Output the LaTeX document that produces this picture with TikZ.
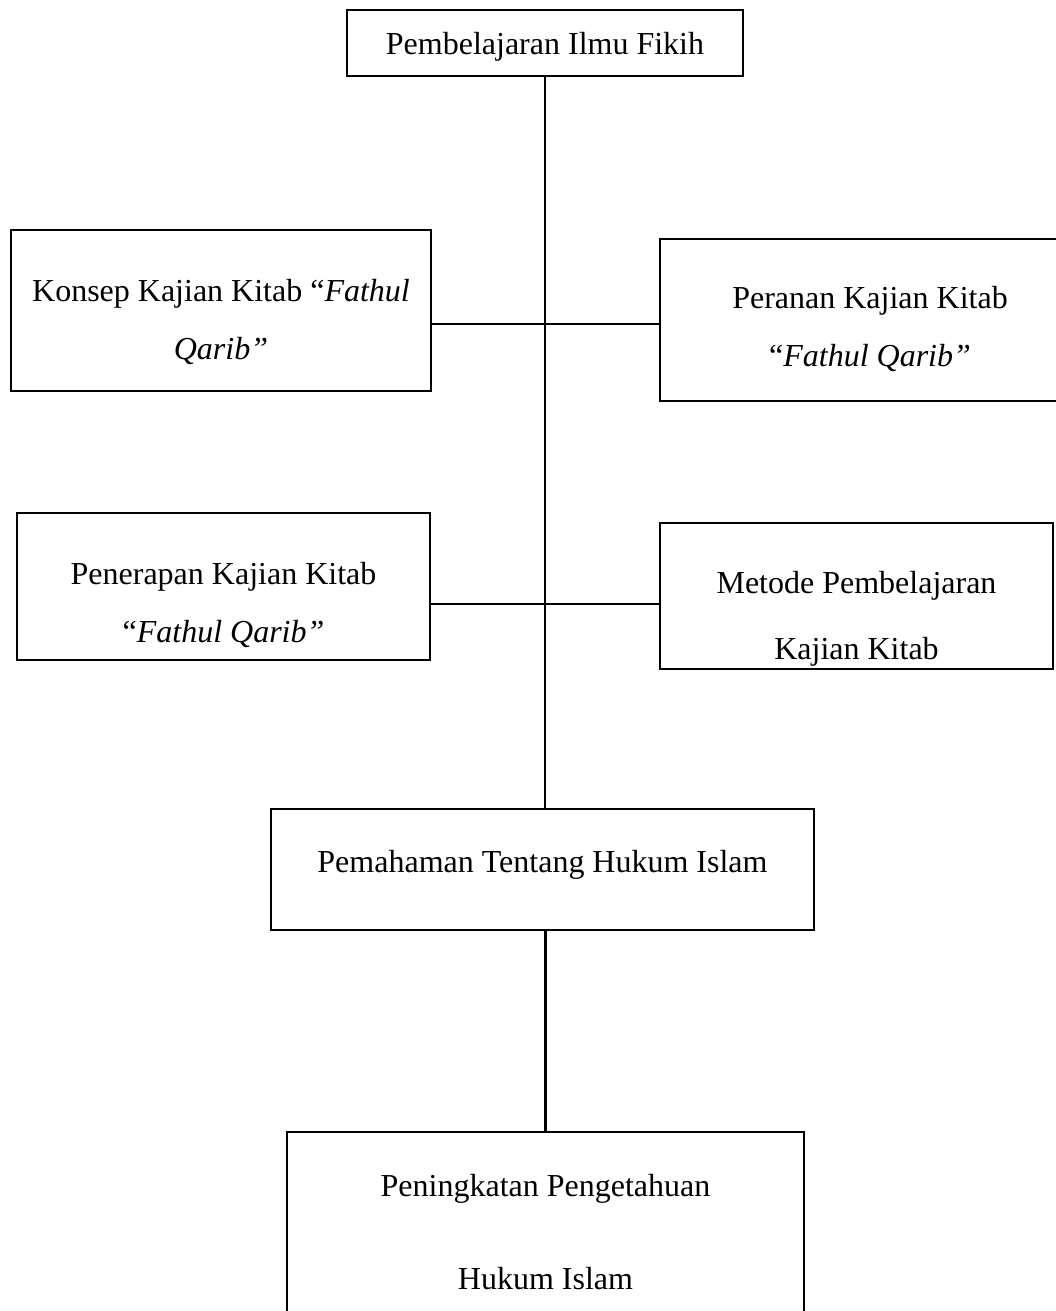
\documentclass[tikz,border=0pt]{standalone}
\usepackage{fontspec}
\setmainfont{Liberation Serif}
\tikzset{
	kotak/.style={draw, line width=0.8pt, align=center, inner sep=0pt,
		font=\fontsize{12pt}{21.75pt}\selectfont},
	garis/.style={line width=0.8pt}
}
\begin{document}
\begin{tikzpicture}[x=0.375pt, y=-0.375pt]
	\useasboundingbox (0,0) rectangle (1056,1311);
	% kotak-kotak
	\node [kotak, minimum width=148.5pt, minimum height=24.75pt, text height=11pt, text depth=2.6pt] (fikih) at (545,43) {Pembelajaran Ilmu Fikih};
	\node [kotak, minimum width=157.5pt, minimum height=60.4pt, text height=38.75pt, text depth=2.2pt] (konsep) at (221,310.5) {Konsep Kajian Kitab “\textit{Fathul}\\ \textit{Qarib”}};
	\node [kotak, minimum width=157.5pt, minimum height=60.75pt, text height=37.25pt, text depth=2.6pt] (peranan) at (870,320) {Peranan Kajian Kitab\\ “\textit{Fathul Qarib”}};
	\node [kotak, minimum width=154.9pt, minimum height=55.1pt, text height=44.25pt, text depth=2.5pt] (penerapan) at (223.5,586.5) {Penerapan Kajian Kitab\\ “\textit{Fathul Qarib”}};
	\node [kotak, minimum width=147.4pt, minimum height=54.75pt, text height=49.75pt, text depth=2.4pt, font=\fontsize{12pt}{24.75pt}\selectfont] (metode) at (856.5,596) {Metode Pembelajaran\\ Kajian Kitab};
	\node [kotak, minimum width=203.6pt, minimum height=45.4pt, text height=7pt, text depth=4.6pt] (pemahaman) at (542.5,869.5) {Pemahaman Tentang Hukum Islam};
	\node [kotak, minimum width=193.9pt, minimum height=75pt, text height=45.9pt, text depth=2.6pt, font=\fontsize{12pt}{34.9pt}\selectfont] (peningkatan) at (545.5,1232) {Peningkatan Pengetahuan\\ Hukum Islam};
	% garis penghubung
	\coordinate (j1) at (544,324);
	\coordinate (j2) at (544,604);
	\draw [garis] (fikih.south) -- (fikih.south |- pemahaman.north);
	\draw [garis] (j1 -| konsep.east) -- (j1 -| peranan.west);
	\draw [garis] (j2 -| penerapan.east) -- (j2 -| metode.west);
	\draw [garis] (peningkatan.north) -- (peningkatan.north |- pemahaman.south);
\end{tikzpicture}
\end{document}
